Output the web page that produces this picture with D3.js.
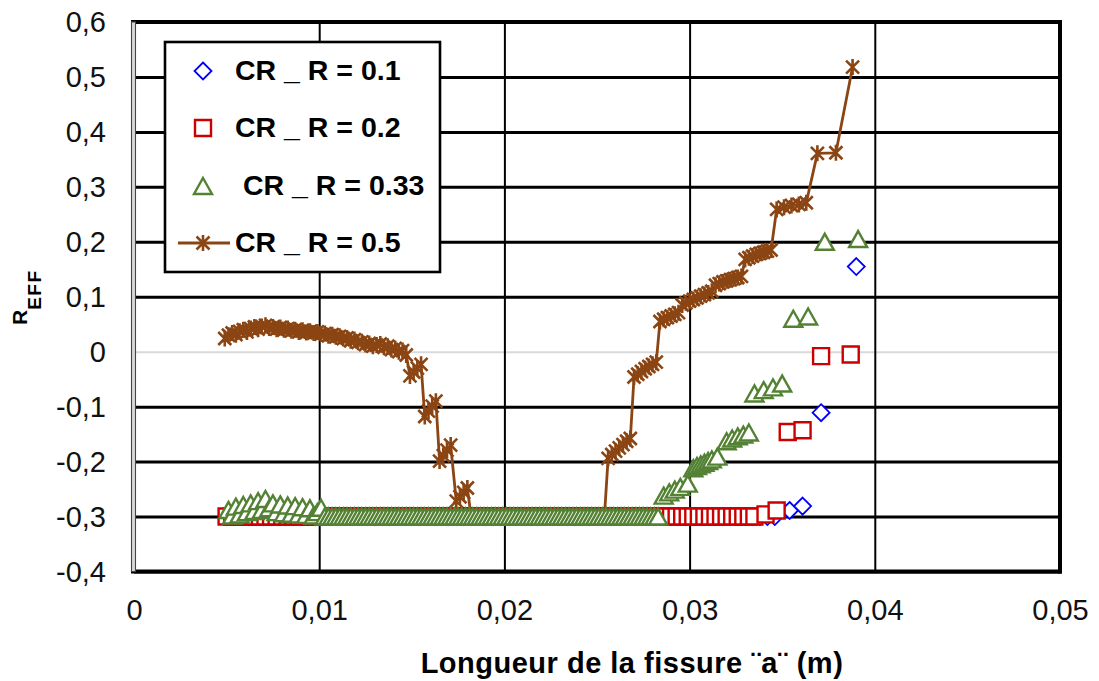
<!DOCTYPE html>
<html>
<head>
<meta charset="utf-8">
<script src="https://cdn.jsdelivr.net/npm/d3@7"></script>
<style>
  html, body { margin: 0; padding: 0; background: #fff; }
  svg { display: block; }
  text { font-family: "Liberation Sans", Arial, sans-serif; }
</style>
</head>
<body>
<svg id="chart" width="1099" height="681"></svg>
<script>
// Axis ticks
const xTicks = [0, 0.01, 0.02, 0.03, 0.04, 0.05];
const yTicks = [-0.4, -0.3, -0.2, -0.1, 0, 0.1, 0.2, 0.3, 0.4, 0.5, 0.6];

// Series labels
const seriesNames = ["CR _ R = 0.1", "CR _ R = 0.2", "CR _ R = 0.33", "CR _ R = 0.5"];

// Effective load ratio vs crack length a (m), R = 0.1
const cr01 = [
  [0.0050,-0.3],[0.0054,-0.3],[0.0058,-0.3],[0.0062,-0.3],[0.0066,-0.3],[0.0070,-0.3],[0.0074,-0.3],[0.0078,-0.3],
  [0.0082,-0.3],[0.0086,-0.3],[0.0090,-0.3],[0.0094,-0.3],[0.0098,-0.3],[0.0102,-0.3],[0.0106,-0.3],[0.0110,-0.3],
  [0.0114,-0.3],[0.0118,-0.3],[0.0122,-0.3],[0.0126,-0.3],[0.0130,-0.3],[0.0134,-0.3],[0.0138,-0.3],[0.0142,-0.3],
  [0.0146,-0.3],[0.0150,-0.3],[0.0154,-0.3],[0.0158,-0.3],[0.0162,-0.3],[0.0166,-0.3],[0.0170,-0.3],[0.0174,-0.3],
  [0.0178,-0.3],[0.0182,-0.3],[0.0186,-0.3],[0.0190,-0.3],[0.0194,-0.3],[0.0198,-0.3],[0.0202,-0.3],[0.0206,-0.3],
  [0.0210,-0.3],[0.0214,-0.3],[0.0218,-0.3],[0.0222,-0.3],[0.0226,-0.3],[0.0230,-0.3],[0.0234,-0.3],[0.0238,-0.3],
  [0.0242,-0.3],[0.0246,-0.3],[0.0250,-0.3],[0.0254,-0.3],[0.0258,-0.3],[0.0262,-0.3],[0.0266,-0.3],[0.0270,-0.3],
  [0.0274,-0.3],[0.0278,-0.3],[0.0282,-0.3],[0.0286,-0.3],[0.0290,-0.3],[0.0294,-0.3],[0.0298,-0.3],[0.0302,-0.3],
  [0.0306,-0.3],[0.0310,-0.3],[0.0314,-0.3],[0.0318,-0.3],[0.0322,-0.3],[0.0326,-0.3],[0.0330,-0.3],[0.0334,-0.3],
  [0.0338,-0.3],[0.0342,-0.3],[0.0346,-0.3],
  [0.0354,-0.289],[0.0361,-0.281],[0.0371,-0.111],[0.0390,0.155]
];

// R = 0.2
const cr02 = [
  [0.0050,-0.3],[0.0053,-0.3],[0.0056,-0.3],[0.0059,-0.3],[0.0062,-0.3],[0.0065,-0.3],[0.0068,-0.3],[0.0071,-0.3],
  [0.0074,-0.3],[0.0077,-0.3],[0.0080,-0.3],[0.0083,-0.3],[0.0086,-0.3],[0.0089,-0.3],[0.0092,-0.3],[0.0095,-0.3],
  [0.0098,-0.3],[0.0101,-0.3],[0.0104,-0.3],[0.0107,-0.3],[0.0110,-0.3],[0.0113,-0.3],[0.0116,-0.3],[0.0119,-0.3],
  [0.0122,-0.3],[0.0125,-0.3],[0.0128,-0.3],[0.0131,-0.3],[0.0134,-0.3],[0.0137,-0.3],[0.0140,-0.3],[0.0143,-0.3],
  [0.0146,-0.3],[0.0149,-0.3],[0.0152,-0.3],[0.0155,-0.3],[0.0158,-0.3],[0.0161,-0.3],[0.0164,-0.3],[0.0167,-0.3],
  [0.0170,-0.3],[0.0173,-0.3],[0.0176,-0.3],[0.0179,-0.3],[0.0182,-0.3],[0.0185,-0.3],[0.0188,-0.3],[0.0191,-0.3],
  [0.0194,-0.3],[0.0197,-0.3],[0.0200,-0.3],[0.0203,-0.3],[0.0206,-0.3],[0.0209,-0.3],[0.0212,-0.3],[0.0215,-0.3],
  [0.0218,-0.3],[0.0221,-0.3],[0.0224,-0.3],[0.0227,-0.3],[0.0230,-0.3],[0.0233,-0.3],[0.0236,-0.3],[0.0239,-0.3],
  [0.0242,-0.3],[0.0245,-0.3],[0.0248,-0.3],[0.0251,-0.3],[0.0254,-0.3],[0.0257,-0.3],[0.0260,-0.3],[0.0263,-0.3],
  [0.0266,-0.3],[0.0269,-0.3],[0.0272,-0.3],[0.0275,-0.3],[0.0278,-0.3],[0.0281,-0.3],[0.0284,-0.3],[0.0287,-0.3],
  [0.0290,-0.3],[0.0293,-0.3],[0.0296,-0.3],[0.0299,-0.3],[0.0302,-0.3],[0.0305,-0.3],[0.0308,-0.3],[0.0311,-0.3],
  [0.0314,-0.3],[0.0317,-0.3],[0.0320,-0.3],[0.0323,-0.3],[0.0326,-0.3],[0.0329,-0.3],[0.0332,-0.3],[0.0335,-0.3],
  [0.0341,-0.296],[0.0347,-0.289],[0.0353,-0.146],[0.0361,-0.143],[0.0371,-0.008],[0.0387,-0.005]
];

// R = 0.33
const cr033 = [
  [0.0051,-0.288],[0.0053,-0.298],[0.0055,-0.282],[0.0057,-0.296],[0.0059,-0.279],[0.0061,-0.292],[0.0063,-0.276],
  [0.0065,-0.290],[0.0067,-0.272],[0.0069,-0.288],[0.0071,-0.268],[0.0073,-0.285],[0.0075,-0.276],[0.0077,-0.292],
  [0.0079,-0.278],[0.0081,-0.294],[0.0083,-0.280],[0.0085,-0.295],[0.0087,-0.281],[0.0089,-0.296],[0.0091,-0.283],
  [0.0093,-0.297],[0.0095,-0.285],[0.0097,-0.298],[0.0099,-0.292],[0.0101,-0.284],
  [0.0103,-0.3],[0.0105,-0.3],[0.0107,-0.3],[0.0109,-0.3],[0.0111,-0.3],[0.0113,-0.3],[0.0115,-0.3],[0.0117,-0.3],
  [0.0119,-0.3],[0.0121,-0.3],[0.0123,-0.3],[0.0125,-0.3],[0.0127,-0.3],[0.0129,-0.3],[0.0131,-0.3],[0.0133,-0.3],
  [0.0135,-0.3],[0.0137,-0.3],[0.0139,-0.3],[0.0141,-0.3],[0.0143,-0.3],[0.0145,-0.3],[0.0147,-0.3],[0.0149,-0.3],
  [0.0151,-0.3],[0.0153,-0.3],[0.0155,-0.3],[0.0157,-0.3],[0.0159,-0.3],[0.0161,-0.3],[0.0163,-0.3],[0.0165,-0.3],
  [0.0167,-0.3],[0.0169,-0.3],[0.0171,-0.3],[0.0173,-0.3],[0.0175,-0.3],[0.0177,-0.3],[0.0179,-0.3],[0.0181,-0.3],
  [0.0183,-0.3],[0.0185,-0.3],[0.0187,-0.3],[0.0189,-0.3],[0.0191,-0.3],[0.0193,-0.3],[0.0195,-0.3],[0.0197,-0.3],
  [0.0199,-0.3],[0.0201,-0.3],[0.0203,-0.3],[0.0205,-0.3],[0.0207,-0.3],[0.0209,-0.3],[0.0211,-0.3],[0.0213,-0.3],
  [0.0215,-0.3],[0.0217,-0.3],[0.0219,-0.3],[0.0221,-0.3],[0.0223,-0.3],[0.0225,-0.3],[0.0227,-0.3],[0.0229,-0.3],
  [0.0231,-0.3],[0.0233,-0.3],[0.0235,-0.3],[0.0237,-0.3],[0.0239,-0.3],[0.0241,-0.3],[0.0243,-0.3],[0.0245,-0.3],
  [0.0247,-0.3],[0.0249,-0.3],[0.0251,-0.3],[0.0253,-0.3],[0.0255,-0.3],[0.0257,-0.3],[0.0259,-0.3],[0.0261,-0.3],
  [0.0263,-0.3],[0.0265,-0.3],[0.0267,-0.3],[0.0269,-0.3],[0.0271,-0.3],[0.0273,-0.3],[0.0275,-0.3],[0.0277,-0.3],
  [0.0279,-0.3],[0.0281,-0.3],[0.0283,-0.3],
  [0.0286,-0.262],[0.0289,-0.256],[0.0292,-0.251],[0.0295,-0.246],[0.0299,-0.240],
  [0.0302,-0.212],[0.0304,-0.208],[0.0306,-0.205],[0.0308,-0.202],[0.0310,-0.199],[0.0312,-0.196],[0.0315,-0.191],
  [0.0320,-0.163],[0.0323,-0.158],[0.0326,-0.154],[0.0329,-0.151],[0.0332,-0.147],
  [0.0335,-0.076],[0.0340,-0.070],[0.0345,-0.065],[0.0350,-0.058],
  [0.0356,0.060],[0.0364,0.064],[0.0373,0.200],[0.0391,0.205]
];

// R = 0.5
const cr05 = [
  [0.0049,0.024],[0.0051,0.030],[0.0053,0.034],[0.0055,0.031],[0.0057,0.037],[0.0059,0.040],[0.0061,0.036],
  [0.0063,0.042],[0.0065,0.045],[0.0067,0.041],[0.0069,0.046],[0.0071,0.048],[0.0073,0.043],[0.0075,0.045],
  [0.0077,0.041],[0.0079,0.044],[0.0081,0.040],[0.0083,0.042],[0.0085,0.038],[0.0087,0.040],[0.0089,0.036],
  [0.0091,0.039],[0.0093,0.035],[0.0095,0.037],[0.0097,0.034],[0.0099,0.036],[0.0101,0.032],[0.0103,0.033],
  [0.0105,0.029],[0.0107,0.031],[0.0109,0.027],[0.0111,0.028],[0.0113,0.024],[0.0115,0.025],[0.0117,0.020],
  [0.0119,0.022],[0.0121,0.017],[0.0123,0.018],[0.0125,0.013],[0.0127,0.015],[0.0129,0.010],[0.0131,0.012],
  [0.0133,0.014],[0.0135,0.008],[0.0137,0.010],[0.0139,0.004],[0.0141,0.006],[0.0143,0.000],[0.0145,0.002],
  [0.0147,-0.006],
  [0.0149,-0.044],[0.0151,-0.037],[0.0153,-0.030],[0.0155,-0.023],
  [0.0157,-0.118],[0.0159,-0.108],[0.0161,-0.099],[0.0163,-0.090],
  [0.0165,-0.199],[0.0167,-0.189],[0.0169,-0.179],[0.0171,-0.170],
  [0.0174,-0.272],[0.0176,-0.264],[0.0178,-0.256],[0.0180,-0.248],
  [0.0182,-0.3],[0.0184,-0.3],[0.0186,-0.3],[0.0188,-0.3],[0.0190,-0.3],[0.0192,-0.3],[0.0194,-0.3],[0.0196,-0.3],
  [0.0198,-0.3],[0.0200,-0.3],[0.0202,-0.3],[0.0204,-0.3],[0.0206,-0.3],[0.0208,-0.3],[0.0210,-0.3],[0.0212,-0.3],
  [0.0214,-0.3],[0.0216,-0.3],[0.0218,-0.3],[0.0220,-0.3],[0.0222,-0.3],[0.0224,-0.3],[0.0226,-0.3],[0.0228,-0.3],
  [0.0230,-0.3],[0.0232,-0.3],[0.0234,-0.3],[0.0236,-0.3],[0.0238,-0.3],[0.0240,-0.3],[0.0242,-0.3],[0.0244,-0.3],
  [0.0246,-0.3],[0.0248,-0.3],[0.0250,-0.3],[0.0252,-0.3],[0.0254,-0.3],
  [0.0256,-0.194],[0.0258,-0.187],[0.0260,-0.181],[0.0262,-0.175],[0.0264,-0.169],[0.0266,-0.163],[0.0268,-0.158],
  [0.0270,-0.046],[0.0272,-0.041],[0.0274,-0.036],[0.0276,-0.031],[0.0278,-0.027],[0.0280,-0.023],[0.0282,-0.019],
  [0.0284,0.055],[0.0286,0.059],[0.0288,0.062],[0.0290,0.065],[0.0292,0.068],[0.0294,0.071],
  [0.0296,0.085],[0.0298,0.089],[0.0300,0.092],[0.0302,0.095],[0.0304,0.098],[0.0306,0.101],[0.0308,0.104],
  [0.0310,0.107],[0.0312,0.110],
  [0.0314,0.121],[0.0316,0.124],[0.0318,0.127],[0.0320,0.129],[0.0322,0.131],[0.0324,0.133],[0.0326,0.135],
  [0.0328,0.137],
  [0.0330,0.168],[0.0332,0.171],[0.0334,0.174],[0.0336,0.177],[0.0338,0.179],[0.0340,0.181],[0.0342,0.183],
  [0.0344,0.185],
  [0.0347,0.259],[0.0351,0.263],[0.0355,0.266],[0.0359,0.268],[0.0363,0.271],
  [0.0369,0.361],[0.0379,0.362],[0.0388,0.518]
];

// ---- layout ----
const W = 1099, H = 681;
const plot = { left: 134, right: 1060, top: 22, bottom: 571.5 };
const FONT = '"Liberation Sans", Arial, sans-serif';

const x = d3.scaleLinear().domain([0, 0.05]).range([plot.left, plot.right]);
const y = d3.scaleLinear().domain([-0.4, 0.6]).range([plot.bottom, plot.top]);

const locale = d3.formatLocale({ decimal: ",", thousands: "\u00a0", grouping: [3], currency: ["", ""], minus: "-" });
const fmt = locale.format("~g");

const svg = d3.select("#chart");
svg.append("rect").attr("width", W).attr("height", H).attr("fill", "#fff");

// Horizontal grid + y tick labels
const yAxis = svg.append("g")
  .attr("transform", `translate(${plot.left},0)`)
  .call(d3.axisLeft(y).tickValues(yTicks).tickFormat(fmt)
        .tickSize(-(plot.right - plot.left)).tickPadding(28));
yAxis.select(".domain").remove();
yAxis.selectAll(".tick line")
  .attr("stroke", d => d === 0 ? "#d9d9d9" : "#000")
  .attr("stroke-width", d => d === 0 ? 2 : 3);
yAxis.selectAll(".tick text")
  .attr("font-family", FONT).attr("font-size", 29).attr("fill", "#111")
  .attr("dy", "0.34em");

// Vertical grid + x tick labels
const xAxis = svg.append("g")
  .attr("transform", `translate(0,${plot.bottom})`)
  .call(d3.axisBottom(x).tickValues(xTicks).tickFormat(fmt)
        .tickSize(-(plot.bottom - plot.top)).tickPadding(28));
xAxis.select(".domain").remove();
xAxis.selectAll(".tick line").attr("stroke", "#000").attr("stroke-width", 2);
xAxis.selectAll(".tick text")
  .attr("font-family", FONT).attr("font-size", 29).attr("fill", "#111");

// Plot frame
const frame = svg.append("g");
frame.append("line").attr("x1", plot.left - 3).attr("x2", plot.right + 2)
  .attr("y1", plot.top).attr("y2", plot.top).attr("stroke", "#000").attr("stroke-width", 4);
frame.append("line").attr("x1", plot.right).attr("x2", plot.right)
  .attr("y1", plot.top - 2).attr("y2", plot.bottom + 2).attr("stroke", "#000").attr("stroke-width", 4);
frame.append("line").attr("x1", plot.left - 3).attr("x2", plot.right + 2)
  .attr("y1", plot.bottom).attr("y2", plot.bottom).attr("stroke", "#000").attr("stroke-width", 4);
frame.append("rect").attr("x", plot.left - 2.5).attr("y", plot.top)
  .attr("width", 4).attr("height", plot.bottom - plot.top)
  .attr("fill", "#d8d8d8").attr("stroke", "#444").attr("stroke-width", 1.1);

// Marker shapes
const shapes = {
  diamond: "M0,-8.5L8.5,0L0,8.5L-8.5,0Z",
  square: "M-8,-8H8V8H-8Z",
  triangle: "M0,-8L9,8L-9,8Z",
  star: "M-6.5,-6.5L6.5,6.5M-6.5,6.5L6.5,-6.5M0,-8V8"
};

const series = [
  { name: seriesNames[0], data: cr01, color: "#0000ff", shape: "diamond", sw: 1.8, line: false },
  { name: seriesNames[1], data: cr02, color: "#cc0000", shape: "square", sw: 2.4, line: false },
  { name: seriesNames[2], data: cr033, color: "#548235", shape: "triangle", sw: 2.4, line: false },
  { name: seriesNames[3], data: cr05, color: "#8b4513", shape: "star", sw: 2.6, line: true }
];

// Drawing order: 0.1, 0.2, 0.5, 0.33
const drawOrder = [0, 1, 3, 2];
const lineGen = d3.line().x(d => x(d[0])).y(d => y(d[1]));

drawOrder.forEach(i => {
  const s = series[i];
  const g = svg.append("g");
  if (s.line) {
    g.append("path").datum(s.data).attr("d", lineGen)
      .attr("fill", "none").attr("stroke", s.color).attr("stroke-width", 2.8)
      .attr("stroke-linejoin", "round");
  }
  g.selectAll("path.m").data(s.data).join("path")
    .attr("class", "m")
    .attr("transform", d => `translate(${x(d[0])},${y(d[1])})`)
    .attr("d", shapes[s.shape])
    .attr("fill", s.shape === "star" ? "none" : "#fff")
    .attr("stroke", s.color).attr("stroke-width", s.sw);
});

// Legend
const lg = svg.append("g");
lg.append("rect").attr("x", 165).attr("y", 42).attr("width", 275).attr("height", 230)
  .attr("fill", "#fff").attr("stroke", "#000").attr("stroke-width", 2.6);
const legendRows = [
  { s: series[0], cy: 71, tx: 235, ty: 80 },
  { s: series[1], cy: 128, tx: 235, ty: 137 },
  { s: series[2], cy: 186, tx: 243, ty: 195 },
  { s: series[3], cy: 243, tx: 235, ty: 252 }
];
legendRows.forEach(r => {
  if (r.s.line) {
    lg.append("line").attr("x1", 178).attr("x2", 230).attr("y1", r.cy).attr("y2", r.cy)
      .attr("stroke", r.s.color).attr("stroke-width", 2.8);
  }
  lg.append("path").attr("transform", `translate(203,${r.cy})`).attr("d", shapes[r.s.shape])
    .attr("fill", r.s.shape === "star" ? "none" : "#fff")
    .attr("stroke", r.s.color).attr("stroke-width", r.s.sw);
  lg.append("text").attr("x", r.tx).attr("y", r.ty).text(r.s.name)
    .attr("font-family", FONT).attr("font-size", 28.5).attr("font-weight", "bold").attr("fill", "#000");
});

// Axis titles
svg.append("text")
  .attr("x", 632).attr("y", 673).attr("text-anchor", "middle")
  .attr("font-family", FONT).attr("font-size", 29).attr("font-weight", "bold")
  .attr("letter-spacing", 0.5).attr("fill", "#000")
  .text("Longueur de la fissure ¨a¨ (m)");

const yt = svg.append("text")
  .attr("transform", "translate(27,325) rotate(-90)")
  .attr("font-family", FONT).attr("font-weight", "bold").attr("fill", "#000");
yt.append("tspan").attr("font-size", 21).text("R");
yt.append("tspan").attr("font-size", 19).attr("dy", 13.5).attr("letter-spacing", 1.5).text("EFF");
</script>
</body>
</html>
